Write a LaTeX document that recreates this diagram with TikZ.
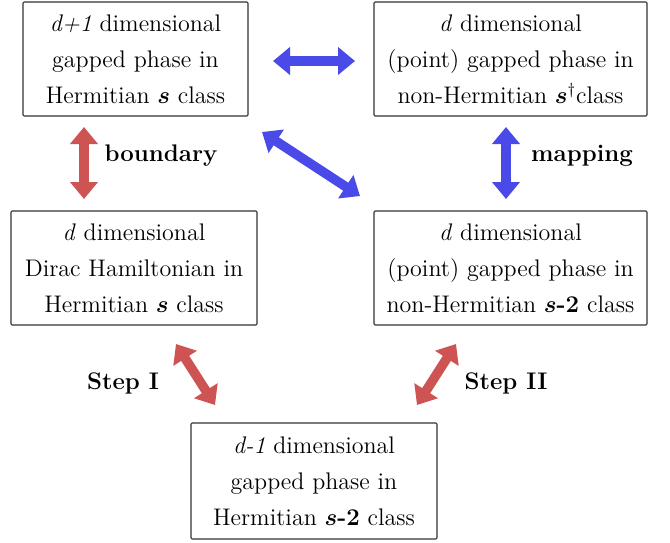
\documentclass[tikz,border=0pt]{standalone}
\usepackage{amsmath}
\usetikzlibrary{arrows.meta}
\definecolor{arrblue}{RGB}{74,74,232}
\definecolor{arrred}{RGB}{206,84,84}
\newcommand{\bs}{\boldsymbol{s}}
\begin{document}
\begin{tikzpicture}[x=0.5pt,y=-0.5pt,
  box/.style={draw=black!80, line width=0.55pt, rounded corners=0.6pt, align=center,
    font=\fontsize{12}{18}\selectfont, inner sep=0pt, minimum height=57pt},
  lbl/.style={font=\fontsize{12}{14}\selectfont\bfseries, inner sep=0pt},
  fat/.style={line width=4.75pt, {Triangle[length=8.5pt,width=13.5pt]}-{Triangle[length=8.5pt,width=13.5pt]}},
  fatblue/.style={fat, draw=arrblue, arrblue},
  fatred/.style={fat, draw=arrred, arrred}]
\useasboundingbox (0,0) rectangle (670,542);
\node[box, minimum width=112.5pt] (tl) at (135.5,59)
  {\textit{d+1} dimensional\\gapped phase in\\Hermitian $\bs$ class};
\node[box, minimum width=136.5pt] (tr) at (510.5,59)
  {\textit{d} dimensional\\(point) gapped phase in\\non-Hermitian $\bs^{\dagger}$class};
\node[box, minimum width=123pt] (ml) at (134,268)
  {\textit{d} dimensional\\Dirac Hamiltonian in\\Hermitian $\bs$ class};
\node[box, minimum width=136.5pt] (mr) at (510.5,268)
  {\textit{d} dimensional\\(point) gapped phase in\\non-Hermitian $\bs$\textbf{-2} class};
\node[box, minimum width=123pt, minimum height=58pt] (b) at (314,481)
  {\textit{d-1} dimensional\\gapped phase in\\Hermitian $\bs$\textbf{-2} class};
\node[lbl] (lb) at (161,156) {boundary};
\node[lbl] (lm) at (582,156) {mapping};
\node[lbl] (l1) at (123,383) {Step I};
\node[lbl] (l2) at (506,383) {Step II};
\coordinate (h1) at (273,61);   \coordinate (h2) at (355,61);
\coordinate (v1) at (84,127);   \coordinate (v2) at (84,199);
\coordinate (d1) at (262,132);  \coordinate (d2) at (360,196);
\coordinate (w1) at (506,127);  \coordinate (w2) at (506,199);
\coordinate (s1) at (176,344);  \coordinate (s2) at (215,405);
\coordinate (t1) at (456,344);  \coordinate (t2) at (417,405);
\draw[fatblue] (h1) -- (h2);
\draw[fatred] (v1) -- (v2);
\draw[fatblue] (d1) -- (d2);
\draw[fatblue] (w1) -- (w2);
\draw[fatred] (s1) -- (s2);
\draw[fatred] (t1) -- (t2);
\end{tikzpicture}
\end{document}
